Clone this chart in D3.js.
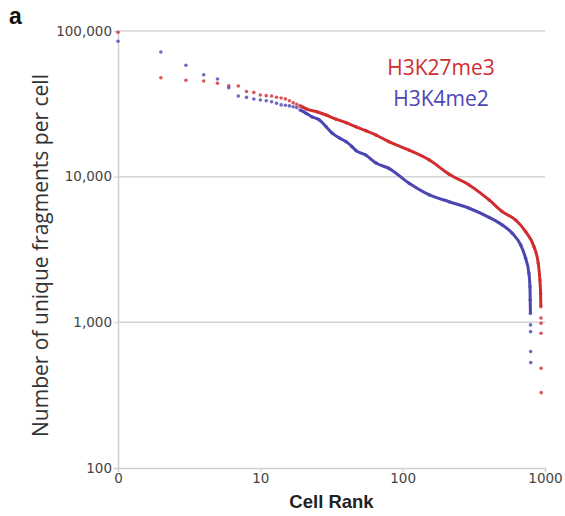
<!DOCTYPE html>
<html>
<head>
<meta charset="utf-8">
<script src="https://cdn.jsdelivr.net/npm/d3@7"></script>
<style>
  body { margin: 0; background: #fff; }
</style>
</head>
<body>
<div id="chart"></div>
<script>
// values (cell rank vs unique fragments)
const k27Ranks = [1,2,3,4,5,6,7,8,9,10,11,12,13,14,15,16,17,18,19,20,21,25,29,34,40,47,55,65,80,111,154,212,293,405,501,622,731,836,896,921,931,935,937,938,939,940,941];
const k27Counts = [98000,47800,45900,45400,43800,42100,41900,38400,37900,36400,36000,35800,35100,34700,34200,33200,32200,31400,30600,29900,29200,27900,26500,24800,23500,22000,20700,19300,17400,15200,13000,10400,8770,6920,5750,5040,4190,3310,2550,1950,1580,1280,1070,986,842,484,329];

const k4Ranks = [1,2,3,4,5,6,7,8,9,10,11,12,13,14,15,16,17,18,19,20,21,23,26,29,32,36,40,44,47,55,65,80,111,154,212,293,405,501,589,675,731,771,784,787,790,791,792,793,794];
const k4Counts = [85000,71700,58200,50100,46800,40800,35800,35000,34100,33600,33200,32700,31900,31100,30900,30600,30200,29800,28700,28000,27200,25800,24500,22000,19900,18400,17400,16100,15100,14100,12400,11400,9000,7490,6730,6070,5250,4660,4090,3400,2750,2170,1760,1430,1150,960,863,630,529];

const xTicks = [1, 10, 100, 1000];
const xTickLabels = ["0", "10", "100", "1000"];
const yTicks = [100, 1000, 10000, 100000];

const width = 565, height = 516;
const mLeft = 118, mRight = 545, mTop = 31, mBottom = 468;

const svg = d3.select("#chart").append("svg")
  .attr("width", width)
  .attr("height", height);

const x = d3.scaleLog().domain([1, 1000]).range([mLeft, mRight]);
const y = d3.scaleLog().domain([100, 100000]).range([mBottom, mTop]);

// gridlines
svg.append("g")
  .selectAll("line")
  .data(yTicks.slice(1))
  .join("line")
  .attr("x1", mLeft).attr("x2", mRight)
  .attr("y1", d => y(d)).attr("y2", d => y(d))
  .attr("stroke", "#d4d4d4")
  .attr("stroke-width", 1.5);

// Y axis
const yAxis = svg.append("g")
  .attr("transform", `translate(${mLeft},0)`)
  .call(d3.axisLeft(y).tickValues(yTicks).tickFormat(d3.format(",")).tickSize(4).tickPadding(2));
yAxis.select(".domain").attr("stroke", "#cfcfcf").attr("stroke-width", 1.5);
yAxis.selectAll(".tick line").attr("stroke", "#cfcfcf");
yAxis.selectAll("text")
  .attr("font-family", "DejaVu Sans")
  .attr("font-size", 13.5)
  .attr("fill", "#444");

// X axis
const xAxis = svg.append("g")
  .attr("transform", `translate(0,${mBottom})`)
  .call(d3.axisBottom(x).tickValues(xTicks).tickFormat((d, i) => xTickLabels[i]).tickSize(4).tickPadding(1));
xAxis.select(".domain").attr("stroke", "#cfcfcf").attr("stroke-width", 1.5);
xAxis.selectAll(".tick line").attr("stroke", "#cfcfcf");
xAxis.selectAll("text")
  .attr("font-family", "DejaVu Sans")
  .attr("font-size", 13.5)
  .attr("fill", "#444");

const series = [
  { name: "H3K27me3", ranks: k27Ranks, counts: k27Counts, color: "#d12d30", lineFrom: 19, lineTo: 935 },
  { name: "H3K4me2", ranks: k4Ranks, counts: k4Counts, color: "#4b46b2", lineFrom: 19, lineTo: 790 }
];

const line = d3.line()
  .x(d => x(d.r))
  .y(d => y(d.v))
  .curve(d3.curveMonotoneX);

series.forEach(s => {
  const pts = s.ranks.map((r, i) => ({ r: r, v: s.counts[i] }));
  svg.append("path")
    .datum(pts.filter(d => d.r >= s.lineFrom && d.r <= s.lineTo))
    .attr("fill", "none")
    .attr("stroke", s.color)
    .attr("stroke-width", 3)
    .attr("stroke-linejoin", "round")
    .attr("d", line);
  svg.append("g")
    .selectAll("circle")
    .data(pts)
    .join("circle")
    .attr("cx", d => x(d.r))
    .attr("cy", d => y(d.v))
    .attr("r", 1.8)
    .attr("fill", s.color)
    .attr("opacity", 0.8);
});

// legend
svg.append("g")
  .selectAll("text")
  .data(series)
  .join("text")
  .attr("x", 441)
  .attr("y", (d, i) => 75 + i * 31)
  .attr("text-anchor", "middle")
  .attr("font-family", "Open Sans")
  .attr("font-size", 21)
  .attr("fill", d => d.color)
  .text(d => d.name);

// X label
svg.append("text")
  .attr("x", (mLeft + mRight) / 2)
  .attr("y", 508)
  .attr("text-anchor", "middle")
  .attr("font-family", "Liberation Sans")
  .attr("font-weight", "bold")
  .attr("font-size", 18.5)
  .attr("fill", "#222")
  .text("Cell Rank");

// Y label
svg.append("text")
  .attr("transform", "rotate(-90)")
  .attr("x", -(mTop + mBottom) / 2 - 6)
  .attr("y", 48)
  .attr("text-anchor", "middle")
  .attr("font-family", "Open Sans")
  .attr("font-size", 21)
  .attr("fill", "#333")
  .text("Number of unique fragments per cell");

// panel letter
svg.append("text")
  .attr("x", 9)
  .attr("y", 24)
  .attr("font-family", "Liberation Sans")
  .attr("font-weight", "bold")
  .attr("font-size", 23)
  .attr("fill", "#111")
  .text("a");
</script>
</body>
</html>
